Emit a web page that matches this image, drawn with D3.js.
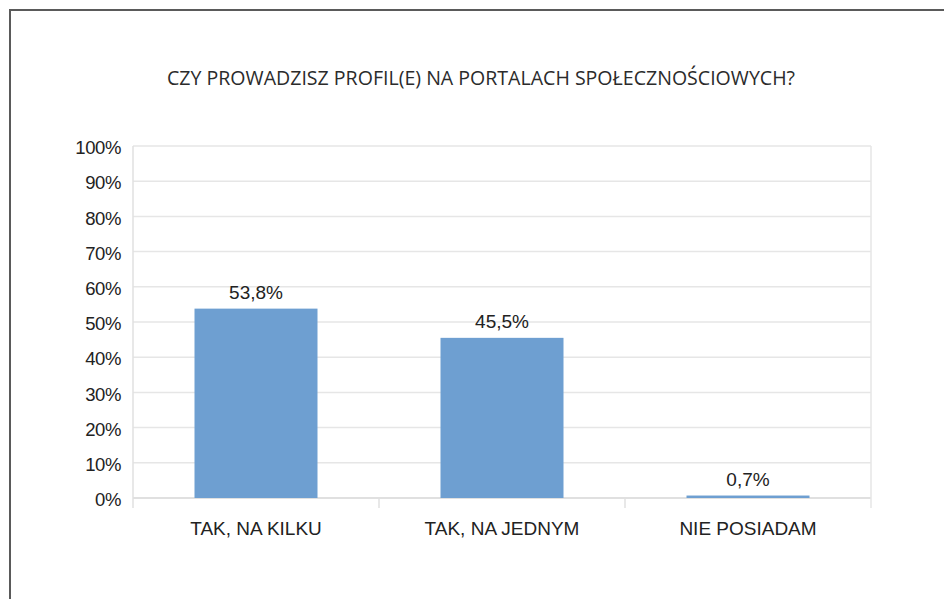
<!DOCTYPE html>
<html>
<head>
<meta charset="utf-8">
<script src="https://cdn.jsdelivr.net/npm/d3@7"></script>
<style>
  html, body { margin: 0; padding: 0; background: #fff; }
  svg { display: block; }
</style>
</head>
<body>
<svg id="chart" width="944" height="599"></svg>
<script>
const title = "CZY PROWADZISZ PROFIL(E) NA PORTALACH SPOŁECZNOŚCIOWYCH?";
const categories = ["TAK, NA KILKU", "TAK, NA JEDNYM", "NIE POSIADAM"];
const values = [53.8, 45.5, 0.7];
const valueLabels = ["53,8%", "45,5%", "0,7%"];
const yTicks = [0, 10, 20, 30, 40, 50, 60, 70, 80, 90, 100];

const svg = d3.select("#chart");
const W = 944, H = 599;
const margin = { left: 133, right: 73, top: 146, bottom: 101 };
const plotW = W - margin.left - margin.right;
const plotH = H - margin.top - margin.bottom;

// outer frame (left and top edges visible)
svg.append("path")
  .attr("d", `M10,${H} L10,10 L${W},10`)
  .attr("fill", "none")
  .attr("stroke", "#5a5a5a")
  .attr("stroke-width", 2);

// title
svg.append("text")
  .attr("x", 481)
  .attr("y", 85)
  .attr("text-anchor", "middle")
  .attr("font-family", "'Open Sans', sans-serif")
  .attr("font-size", 19.5)
  .attr("fill", "#2b2b2b")
  .attr("textLength", 628)
  .attr("lengthAdjust", "spacingAndGlyphs")
  .text(title);

const g = svg.append("g").attr("transform", `translate(${margin.left},${margin.top})`);

const y = d3.scaleLinear().domain([0, 100]).range([plotH, 0]);
const xOuter = d3.scaleBand().domain(categories).range([0, plotW]).padding(0);
const x = d3.scaleBand().domain(categories).range([0, plotW]).paddingInner(0.5).paddingOuter(0.25);

// gridlines
g.append("g")
  .selectAll("line")
  .data(yTicks)
  .join("line")
  .attr("x1", 0).attr("x2", plotW)
  .attr("y1", d => y(d)).attr("y2", d => y(d))
  .attr("stroke", d => d === 0 ? "#d6d6d6" : "#e6e6e6")
  .attr("stroke-width", 1.5);

// plot area side borders
g.append("line").attr("x1", 0).attr("x2", 0).attr("y1", 0).attr("y2", plotH + 10)
  .attr("stroke", "#e0e0e0").attr("stroke-width", 1.5);
g.append("line").attr("x1", plotW).attr("x2", plotW).attr("y1", 0).attr("y2", plotH + 10)
  .attr("stroke", "#e6e6e6").attr("stroke-width", 1.5);

// category tick marks
const boundaries = categories.slice(1).map(c => xOuter(c));
g.append("g").selectAll("line")
  .data(boundaries)
  .join("line")
  .attr("x1", d => d).attr("x2", d => d)
  .attr("y1", plotH).attr("y2", plotH + 10)
  .attr("stroke", "#e0e0e0").attr("stroke-width", 1.5);

// y axis labels
const yAxis = d3.axisLeft(y).tickValues(yTicks).tickFormat(d => d + "%").tickSize(0).tickPadding(12);
const ya = g.append("g").call(yAxis);
ya.select(".domain").remove();
ya.selectAll("text")
  .attr("font-family", "'Liberation Sans', Arial, sans-serif")
  .attr("font-size", 18.5)
  .attr("fill", "#222")
  .attr("letter-spacing", -0.4)
  .attr("dy", "0.42em");

// x axis labels
const xAxis = d3.axisBottom(xOuter).tickSize(0).tickPadding(0);
const xa = g.append("g").attr("transform", `translate(0,${plotH})`).call(xAxis);
xa.select(".domain").remove();
xa.selectAll("text")
  .attr("font-family", "'Liberation Sans', Arial, sans-serif")
  .attr("font-size", 19)
  .attr("fill", "#222")
  .attr("dy", 0)
  .attr("y", 37);

// bars
g.append("g").selectAll("rect")
  .data(values)
  .join("rect")
  .attr("x", (d, i) => x(categories[i]))
  .attr("width", x.bandwidth())
  .attr("y", d => y(d))
  .attr("height", d => y(0) - y(d))
  .attr("fill", "#6e9fd1");

// value labels
g.append("g").selectAll("text")
  .data(values)
  .join("text")
  .attr("x", (d, i) => x(categories[i]) + x.bandwidth() / 2)
  .attr("y", d => y(d) - 10)
  .attr("text-anchor", "middle")
  .attr("font-family", "'Liberation Sans', Arial, sans-serif")
  .attr("font-size", 19)
  .attr("fill", "#222")
  .text((d, i) => valueLabels[i]);
</script>
</body>
</html>
